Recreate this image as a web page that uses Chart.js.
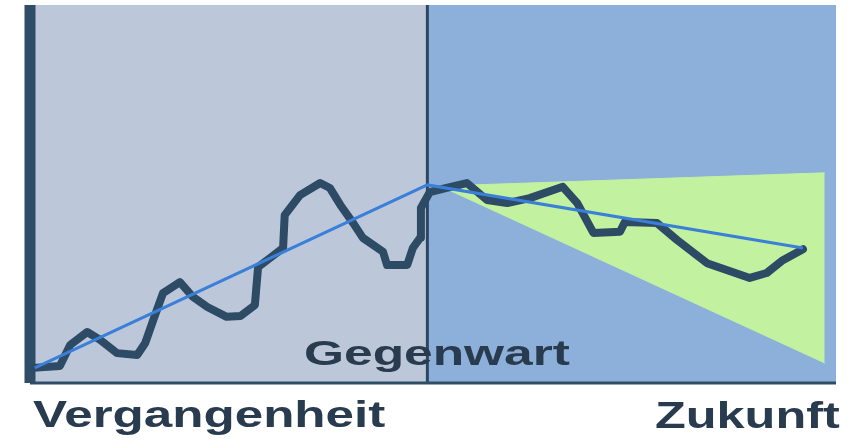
<!DOCTYPE html>
<html>
<head>
<meta charset="utf-8">
<script src="https://cdn.jsdelivr.net/npm/chart.js@4/dist/chart.umd.min.js"></script>
<style>
    body { margin: 0; background: #ffffff; }
    #wrap { position: relative; width: 856px; height: 440px; }
    .label {
        position: absolute;
        font-family: "Liberation Sans", Arial, sans-serif;
        font-weight: bold;
        color: #293b4e;
        line-height: 1;
        white-space: nowrap;
        transform-origin: left top;
    }
</style>
</head>
<body>
<div id="wrap">
    <canvas id="chart" width="856" height="440"></canvas>
    <span class="label" style="left:33px; top:397px; font-size:36px; transform:scaleX(1.42);">Vergangenheit</span>
    <span class="label" style="left:655px; top:398px; font-size:36px; transform:scaleX(1.4);">Zukunft</span>
    <span class="label" style="left:304px; top:335px; font-size:35px; transform:scaleX(1.47);">Gegenwart</span>
</div>
<script>
// Time runs 0..100, "now" sits at 49.3; values 0..100
const nowX = 49.3;

// Actual course (past and future)
const courseX = [0.4, 3.7, 5.0, 7.1, 8.7, 10.8, 13.3, 14.3, 15.3, 16.5, 18.6, 20.2, 22.0, 24.4, 26.1,
    27.9, 28.3, 29.8, 31.4, 31.6, 33.5, 36.0, 37.2, 38.5, 40.1, 41.3, 43.8, 44.3, 46.8, 47.5, 48.4,
    48.5, 49.6, 51.7, 54.2, 56.7, 59.2, 62.0, 66.1, 67.9, 69.9, 73.2, 73.8, 77.8, 80.3, 84.0, 89.3,
    91.4, 93.4, 95.9];
const courseY = [4.0, 4.5, 10.1, 13.5, 11.4, 7.9, 7.4, 10.6, 16.7, 23.8, 26.7, 22.8, 20.1, 17.5, 17.7,
    20.6, 30.7, 33.1, 35.7, 44.4, 49.7, 52.9, 51.6, 47.1, 42.3, 38.4, 34.7, 31.2, 31.2, 35.7, 38.4,
    46.3, 50.5, 51.6, 52.9, 48.4, 47.6, 48.9, 51.9, 47.6, 39.7, 40.0, 42.6, 42.3, 37.8, 31.7, 27.8,
    29.1, 32.5, 35.4];

// Trend line: start, now, end
const trendX = [0.6, nowX, 95.9];
const trendY = [4.0, 52.4, 35.7];

// Forecast cone (apex, upper end, lower end)
const coneX = [50.9, 98.6];
const coneUpper = [52.1, 55.6];
const coneLower = [52.1, 5.3];

function toPoints(xs, ys) {
    return xs.map((x, i) => ({ x: x, y: ys[i] }));
}

const flat = { pointRadius: 0, pointHoverRadius: 0, tension: 0 };

const datasets = [
    // 0 wave
    Object.assign({
        label: 'Verlauf',
        data: toPoints(courseX, courseY),
        borderColor: '#2d4b64',
        borderWidth: 8,
        borderJoinStyle: 'round',
        borderCapStyle: 'round',
        fill: false,
        order: 2
    }, flat),
    // 1 trend
    Object.assign({
        label: 'Trend',
        data: toPoints(trendX, trendY),
        borderColor: '#3a7fd8',
        borderWidth: 3,
        fill: false,
        order: 1
    }, flat),
    // 2 cone upper edge, filled to 3
    Object.assign({
        label: 'Prognose',
        data: toPoints(coneX, coneUpper),
        borderColor: '#c2f1a0',
        borderWidth: 1,
        backgroundColor: '#c2f1a0',
        fill: 3,
        order: 6
    }, flat),
    // 3 cone lower edge
    Object.assign({
        label: 'Prognose unten',
        data: toPoints(coneX, coneLower),
        borderColor: '#c2f1a0',
        borderWidth: 1,
        fill: false,
        order: 7
    }, flat),
    // 4 past area
    Object.assign({
        label: 'Vergangenheit',
        data: toPoints([0, nowX], [100, 100]),
        borderWidth: 0,
        backgroundColor: '#bcc8d9',
        fill: 'start',
        order: 10
    }, flat),
    // 5 future area
    Object.assign({
        label: 'Zukunft',
        data: toPoints([nowX, 100], [100, 100]),
        borderWidth: 0,
        backgroundColor: '#8cb0d9',
        fill: 'start',
        order: 9
    }, flat),
    // 6 now divider
    Object.assign({
        label: 'Gegenwart',
        data: toPoints([nowX, nowX], [0, 100]),
        borderColor: '#2c4760',
        borderWidth: 3,
        fill: false,
        order: 4
    }, flat),
    // 7 left axis
    Object.assign({
        label: 'y-Achse',
        data: toPoints([0, 0], [0, 100]),
        borderColor: '#2f4d66',
        borderWidth: 11,
        fill: false,
        clip: false,
        order: 3
    }, flat),
    // 8 bottom axis
    Object.assign({
        label: 'x-Achse',
        data: toPoints([0, 100], [0, 0]),
        borderColor: '#2f4d66',
        borderWidth: 3,
        fill: false,
        clip: false,
        order: 3
    }, flat)
];

new Chart(document.getElementById('chart'), {
    type: 'line',
    data: { datasets: datasets },
    options: {
        responsive: false,
        animation: false,
        layout: { padding: { left: 30, right: 20, top: 5, bottom: 57 } },
        plugins: {
            legend: { display: false },
            tooltip: { enabled: false }
        },
        scales: {
            x: { type: 'linear', min: 0, max: 100, display: false },
            y: { type: 'linear', min: 0, max: 100, display: false }
        }
    }
});
</script>
</body>
</html>
